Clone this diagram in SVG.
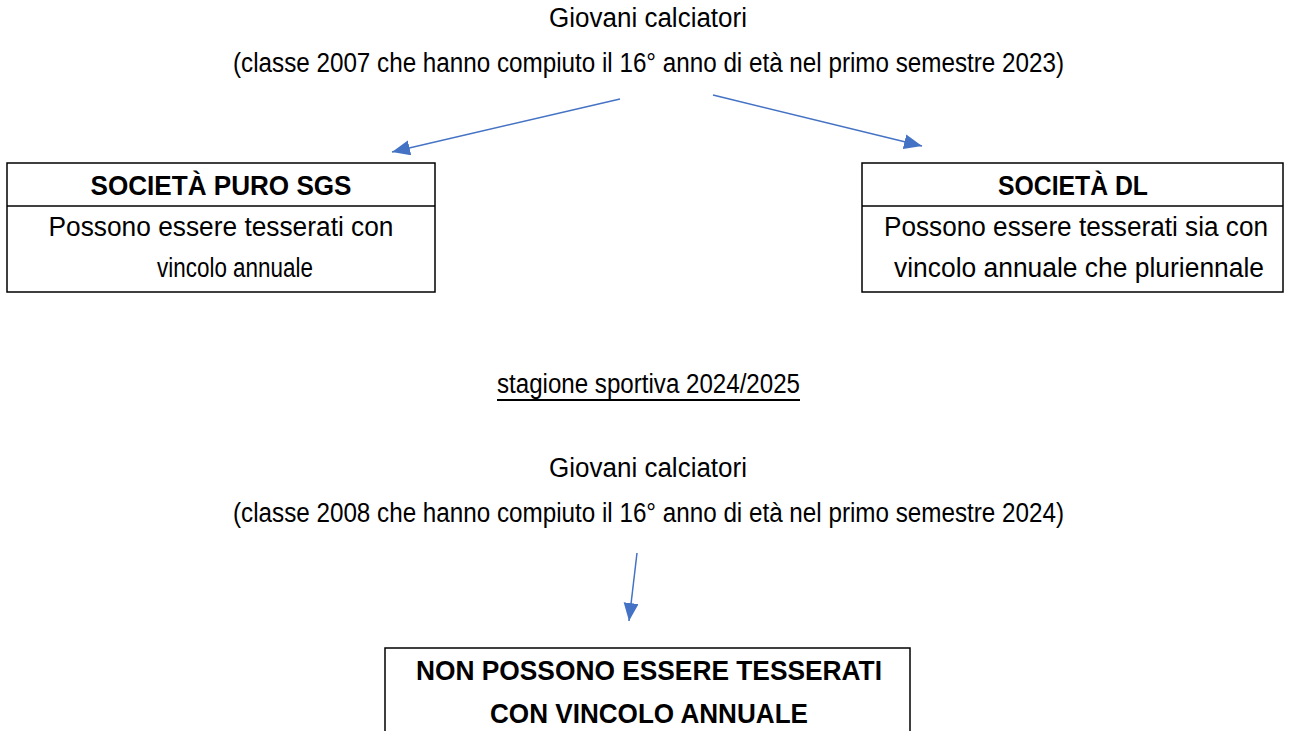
<svg xmlns="http://www.w3.org/2000/svg" width="1292" height="731" viewBox="0 0 1292 731">
<defs>
<marker id="ah" markerUnits="userSpaceOnUse" markerWidth="20" markerHeight="16" refX="18" refY="7.5" orient="auto">
<path d="M0,0 L18,7.5 L0,15 z" fill="#4472C4"/>
</marker>
<style>
.t{font-family:"Liberation Sans Narrow","Liberation Sans",Arial,sans-serif;font-size:27px;fill:#000;text-anchor:middle}
.b{font-weight:bold}
.box{fill:#fff;stroke:#000;stroke-width:1.5}
.c{stroke:#4472C4;stroke-width:1.5;fill:none;marker-end:url(#ah)}
</style>
</defs>
<rect width="1292" height="731" fill="#fff"/>
<g id="top-title">
<text class="t" x="648" y="27" textLength="198" lengthAdjust="spacingAndGlyphs">Giovani calciatori</text>
<text class="t" x="648.5" y="72" textLength="831" lengthAdjust="spacingAndGlyphs">(classe 2007 che hanno compiuto il 16° anno di età nel primo semestre 2023)</text>
</g>
<g id="societa-puro-sgs">
<rect class="box" x="7" y="163" width="428" height="129"/>
<line x1="7" y1="206" x2="435" y2="206" stroke="#000" stroke-width="1.5"/>
<text class="t b" x="221" y="195" textLength="261" lengthAdjust="spacingAndGlyphs">SOCIETÀ PURO SGS</text>
<text class="t" x="221" y="236" textLength="345" lengthAdjust="spacingAndGlyphs">Possono essere tesserati con</text>
<text class="t" x="235" y="277" textLength="156" lengthAdjust="spacingAndGlyphs">vincolo annuale</text>
</g>
<g id="societa-dl">
<rect class="box" x="862" y="163" width="421" height="129"/>
<line x1="862" y1="206" x2="1283" y2="206" stroke="#000" stroke-width="1.5"/>
<text class="t b" x="1073" y="195" textLength="150" lengthAdjust="spacingAndGlyphs">SOCIETÀ DL</text>
<text class="t" x="1076" y="236" textLength="384" lengthAdjust="spacingAndGlyphs">Possono essere tesserati sia con</text>
<text class="t" x="1079" y="277" textLength="370" lengthAdjust="spacingAndGlyphs">vincolo annuale che pluriennale</text>
</g>
<g id="stagione">
<text class="t" x="648.5" y="393" textLength="303" lengthAdjust="spacingAndGlyphs">stagione sportiva 2024/2025</text>
<line x1="497" y1="400" x2="800" y2="400" stroke="#000" stroke-width="2"/>
</g>
<g id="bottom-title">
<text class="t" x="648" y="477" textLength="198" lengthAdjust="spacingAndGlyphs">Giovani calciatori</text>
<text class="t" x="648.5" y="522" textLength="831" lengthAdjust="spacingAndGlyphs">(classe 2008 che hanno compiuto il 16° anno di età nel primo semestre 2024)</text>
</g>
<g id="non-possono">
<rect class="box" x="385" y="648" width="525" height="100"/>
<text class="t b" x="649" y="680" textLength="466" lengthAdjust="spacingAndGlyphs">NON POSSONO ESSERE TESSERATI</text>
<text class="t b" x="649" y="723" textLength="318" lengthAdjust="spacingAndGlyphs">CON VINCOLO ANNUALE</text>
</g>
<g id="connectors">
<line class="c" x1="620" y1="99" x2="392" y2="152"/>
<line class="c" x1="713" y1="95" x2="922" y2="146"/>
<line class="c" x1="637" y1="553" x2="629" y2="621"/>
</g>
</svg>
